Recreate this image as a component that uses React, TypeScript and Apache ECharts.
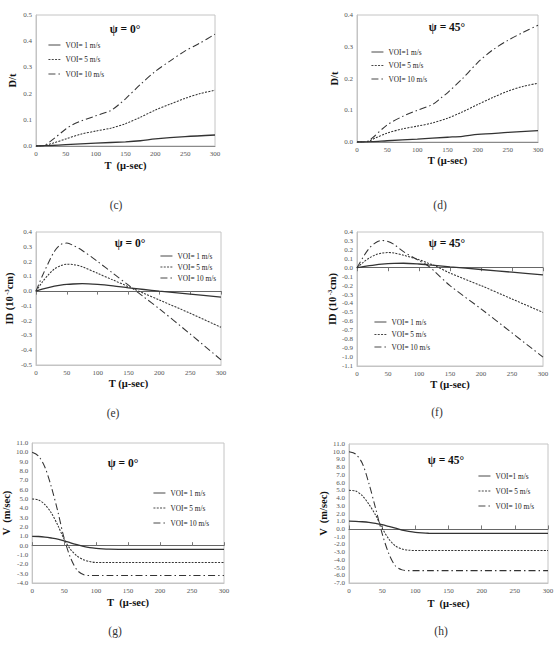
import React, { useEffect, useRef } from "react";
import * as echarts from "echarts";

const FONT = "'Liberation Serif', 'Times New Roman', serif";
const INK = "#333";

// ---------- (c) D/t, ψ = 0° ----------
const tC1 = [0, 25, 50, 100, 150, 175, 200, 250, 300];
const dC1 = [0, 0.002, 0.005, 0.011, 0.016, 0.02, 0.027, 0.036, 0.042];
const tC5 = [0, 10, 20, 30, 50, 75, 100, 125, 150, 175, 200, 225, 250, 275, 300];
const dC5 = [0, 0, 0.005, 0.012, 0.027, 0.045, 0.057, 0.068, 0.085, 0.11, 0.137, 0.16, 0.182, 0.2, 0.213];
const tC10 = [0, 10, 15, 30, 50, 60, 75, 100, 125, 140, 150, 175, 200, 225, 250, 275, 300];
const dC10 = [0, 0, 0.003, 0.028, 0.065, 0.08, 0.095, 0.115, 0.135, 0.16, 0.18, 0.235, 0.285, 0.325, 0.363, 0.393, 0.427];

// ---------- (d) D/t, ψ = 45° ----------
const tD1 = [0, 25, 50, 100, 150, 175, 200, 250, 300];
const dD1 = [0, 0.001, 0.004, 0.009, 0.015, 0.018, 0.024, 0.03, 0.036];
const tD5 = [0, 10, 20, 30, 50, 75, 100, 125, 150, 175, 200, 225, 250, 275, 300];
const dD5 = [0, 0, 0.003, 0.012, 0.028, 0.041, 0.05, 0.06, 0.075, 0.095, 0.118, 0.14, 0.16, 0.175, 0.185];
const tD10 = [0, 10, 15, 25, 50, 75, 100, 125, 140, 150, 175, 200, 225, 250, 275, 300];
const dD10 = [0, 0, 0, 0.012, 0.054, 0.08, 0.1, 0.118, 0.14, 0.155, 0.2, 0.25, 0.29, 0.32, 0.345, 0.368];

// ---------- (e) ID, ψ = 0° ----------
const tE = [0, 10, 20, 30, 40, 50, 60, 75, 100, 125, 150, 175, 200, 250, 300];
const idE10 = [0, 0.1, 0.19, 0.27, 0.315, 0.325, 0.31, 0.275, 0.2, 0.12, 0.04, -0.04, -0.12, -0.29, -0.465];
const idE5 = [0, 0.06, 0.11, 0.15, 0.172, 0.182, 0.18, 0.165, 0.12, 0.075, 0.03, -0.015, -0.06, -0.15, -0.245];
const idE1 = [0, 0.013, 0.024, 0.033, 0.04, 0.045, 0.048, 0.05, 0.045, 0.035, 0.022, 0.011, 0.0, -0.02, -0.04];

// ---------- (f) ID, ψ = 45° ----------
const tF = [0, 10, 20, 30, 40, 50, 60, 75, 100, 115, 125, 150, 200, 250, 300];
const idF10 = [0, 0.12, 0.22, 0.28, 0.305, 0.295, 0.26, 0.18, 0.08, 0.02, -0.04, -0.2, -0.46, -0.73, -1.0];
const idF5 = [0, 0.06, 0.11, 0.145, 0.163, 0.17, 0.165, 0.14, 0.09, 0.05, 0.025, -0.06, -0.2, -0.35, -0.5];
const idF1 = [0, 0.013, 0.024, 0.033, 0.04, 0.045, 0.048, 0.05, 0.042, 0.033, 0.027, 0.01, -0.02, -0.05, -0.08];

// ---------- (g) V, ψ = 0° ----------
const tG = [0, 10, 20, 30, 40, 50, 60, 70, 80, 90, 100, 110, 120, 150, 200, 250, 300];
const vG10 = [10, 9.6, 8.4, 6.3, 3.7, 0.8, -1.3, -2.6, -3.1, -3.2, -3.2, -3.2, -3.2, -3.2, -3.2, -3.2, -3.2];
const vG5 = [5, 4.9, 4.4, 3.5, 2.2, 0.7, -0.4, -1.1, -1.5, -1.7, -1.8, -1.8, -1.8, -1.8, -1.8, -1.8, -1.8];
const vG1 = [1, 0.98, 0.92, 0.82, 0.7, 0.52, 0.3, 0.1, -0.08, -0.22, -0.3, -0.35, -0.38, -0.4, -0.4, -0.4, -0.4];

// ---------- (h) V, ψ = 45° ----------
const tH = [0, 10, 20, 30, 40, 50, 60, 70, 80, 90, 100, 110, 120, 150, 200, 250, 300];
const vH10 = [10, 9.7, 8.5, 5.9, 2.7, -0.6, -3.2, -4.8, -5.3, -5.4, -5.4, -5.4, -5.4, -5.4, -5.4, -5.4, -5.4];
const vH5 = [5, 4.9, 4.3, 3.2, 1.8, 0.1, -1.3, -2.2, -2.6, -2.75, -2.8, -2.8, -2.8, -2.8, -2.8, -2.8, -2.8];
const vH1 = [1, 0.98, 0.93, 0.85, 0.72, 0.55, 0.33, 0.1, -0.15, -0.32, -0.45, -0.52, -0.56, -0.58, -0.58, -0.58, -0.58];

const NAMES_A = ["VOI= 1 m/s", "VOI= 5 m/s", "VOI= 10 m/s"];
const NAMES_B = ["VOI=1 m/s", "VOI= 5 m/s", "VOI= 10 m/s"];

// line styles: solid, short dashes, dash-dot
const STYLES: any[] = [
  { type: "solid", width: 1.3 },
  { type: [2, 1.3], width: 1.05 },
  { type: [7, 3, 1.5, 3], width: 1.05 },
];

const pairs = (t: number[], v: number[]) => t.map((x, i) => [x, v[i]]);

type Panel = {
  grid: { left: number; top: number; width: number; height: number };
  yMin: number;
  yMax: number;
  yStep: number;
  yName: string;
  yGap: number;
  xName: string;
  xGap: number;
  zero: null | "up" | "down";
  psi: string;
  psiAt: [number, number];
  legendAt: [number, number];
  legendGap: number;
  names: string[];
  caption: string;
  captionAt: [number, number];
  lines: number[][][];
};

const PANELS: Panel[] = [
  {
    grid: { left: 36, top: 15, width: 179, height: 131 },
    yMin: 0, yMax: 0.5, yStep: 0.1, yName: "D/t", yGap: 17,
    xName: "T  (μ-sec)", xGap: 14, zero: null,
    psi: "ψ = 0°", psiAt: [125, 29], legendAt: [48, 41], legendGap: 6.5, names: NAMES_A,
    caption: "(c)", captionAt: [116, 205],
    lines: [pairs(tC1, dC1), pairs(tC5, dC5), pairs(tC10, dC10)],
  },
  {
    grid: { left: 357, top: 15, width: 181, height: 127 },
    yMin: 0, yMax: 0.4, yStep: 0.1, yName: "D/t", yGap: 16,
    xName: "T (μ-sec)", xGap: 13, zero: null,
    psi: "ψ = 45°", psiAt: [447, 27], legendAt: [371, 48], legendGap: 5.5, names: NAMES_B,
    caption: "(d)", captionAt: [440, 205],
    lines: [pairs(tD1, dD1), pairs(tD5, dD5), pairs(tD10, dD10)],
  },
  {
    grid: { left: 36, top: 232, width: 185, height: 133 },
    yMin: -0.5, yMax: 0.4, yStep: 0.1, yName: "ID", yGap: 20,
    xName: "T (μ-sec)", xGap: 13, zero: "down",
    psi: "ψ = 0°", psiAt: [130, 243], legendAt: [160, 252], legendGap: 3, names: NAMES_A,
    caption: "(e)", captionAt: [113, 413],
    lines: [pairs(tE, idE1), pairs(tE, idE5), pairs(tE, idE10)],
  },
  {
    grid: { left: 357, top: 232, width: 186, height: 134 },
    yMin: -1.1, yMax: 0.4, yStep: 0.1, yName: "ID", yGap: 18,
    xName: "T (μ-sec)", xGap: 13, zero: "down",
    psi: "ψ = 45°", psiAt: [447, 243], legendAt: [374, 318], legendGap: 4.5, names: NAMES_A,
    caption: "(f)", captionAt: [437, 412],
    lines: [pairs(tF, idF1), pairs(tF, idF5), pairs(tF, idF10)],
  },
  {
    grid: { left: 31, top: 443, width: 193, height: 140 },
    yMin: -4, yMax: 11, yStep: 1, yName: "V", yGap: 19,
    xName: "T  (μ-sec)", xGap: 14, zero: "up",
    psi: "ψ = 0°", psiAt: [123, 463], legendAt: [153, 489], legendGap: 7, names: NAMES_A,
    caption: "(g)", captionAt: [115, 631],
    lines: [pairs(tG, vG1), pairs(tG, vG5), pairs(tG, vG10)],
  },
  {
    grid: { left: 349, top: 444, width: 199, height: 139 },
    yMin: -7, yMax: 11, yStep: 1, yName: "V", yGap: 16,
    xName: "T  (μ-sec)", xGap: 15, zero: "up",
    psi: "ψ = 45°", psiAt: [446, 460], legendAt: [478, 472], legendGap: 7, names: NAMES_B,
    caption: "(h)", captionAt: [441, 631],
    lines: [pairs(tH, vH1), pairs(tH, vH5), pairs(tH, vH10)],
  },
];

const tickFmt = (v: number) => (Math.abs(v) < 1e-9 ? "0.0" : v.toFixed(1));

function yTitle(kind: string) {
  if (kind === "ID") return "{b|ID (10}{s| -3}{b|cm)}";
  if (kind === "V") return "{b|V  (m/sec)}";
  return "{b|D/t}";
}

function buildOption() {
  const grid: any[] = [];
  const xAxis: any[] = [];
  const yAxis: any[] = [];
  const series: any[] = [];
  const legend: any[] = [];
  const graphic: any[] = [];

  PANELS.forEach((p, gi) => {
    grid.push({
      ...p.grid,
      show: true,
      borderColor: "#c4c4c4",
      borderWidth: 1,
      backgroundColor: "#fff",
    });

    const xMain = xAxis.length;
    xAxis.push({
      gridIndex: gi,
      type: "value",
      min: 0,
      max: 300,
      interval: 50,
      position: "bottom",
      name: p.xName,
      nameLocation: "middle",
      nameGap: p.xGap,
      nameTextStyle: { fontFamily: FONT, fontSize: 10.5, fontWeight: "bold", color: "#111" },
      axisLine: { show: true, onZero: false, lineStyle: { color: p.zero ? "#c4c4c4" : "#8a8a8a", width: 1 } },
      axisTick: { show: false },
      axisLabel: { fontFamily: FONT, fontSize: 7, color: "#555", margin: 4 },
      splitLine: { show: false },
    });
    if (p.zero) {
      // zero line with its own tick marks, sitting at y = 0
      xAxis.push({
        gridIndex: gi,
        type: "value",
        min: 0,
        max: 300,
        interval: 50,
        position: "top",
        axisLine: { show: true, onZero: true, lineStyle: { color: "#666", width: 1 } },
        axisTick: { show: true, inside: p.zero === "down", length: 3.5, lineStyle: { color: "#777" } },
        axisLabel: { show: false },
        splitLine: { show: false },
      });
    }

    yAxis.push({
      gridIndex: gi,
      type: "value",
      min: p.yMin,
      max: p.yMax,
      interval: p.yStep,
      name: yTitle(p.yName),
      nameLocation: "middle",
      nameGap: p.yGap,
      nameTextStyle: {
        fontFamily: FONT,
        color: "#111",
        rich: {
          b: { fontFamily: FONT, fontSize: 10.5, fontWeight: "bold", color: "#111", lineHeight: 13 },
          s: { fontFamily: FONT, fontSize: 6.5, fontWeight: "bold", color: "#111", lineHeight: 7, verticalAlign: "top" },
        },
      },
      axisLine: { show: true, onZero: false, lineStyle: { color: "#c4c4c4", width: 1 } },
      axisTick: { show: false },
      axisLabel: { fontFamily: FONT, fontSize: 7, color: "#555", margin: 4, formatter: tickFmt },
      splitLine: { show: false },
    });

    p.lines.forEach((data, si) => {
      series.push({
        type: "line",
        name: p.names[si],
        xAxisIndex: xMain,
        yAxisIndex: gi,
        data,
        smooth: 0.3,
        symbol: "none",
        showSymbol: false,
        silent: true,
        lineStyle: { color: INK, ...STYLES[si] },
        itemStyle: { color: INK },
        emphasis: { disabled: true },
        z: 3,
      });
    });

    legend.push({
      left: p.legendAt[0],
      top: p.legendAt[1],
      orient: "vertical",
      padding: 0,
      itemWidth: 12,
      itemHeight: 8,
      itemGap: p.legendGap,
      data: p.names,
      selectedMode: false,
      // keep only the line sample in each legend entry
      itemStyle: { opacity: 0 },
      lineStyle: { width: 0.9 },
      textStyle: { fontFamily: FONT, fontSize: 7.3, color: "#222", lineHeight: 8 },
    });

    graphic.push({
      type: "text",
      x: p.psiAt[0],
      y: p.psiAt[1],
      z: 10,
      style: {
        text: p.psi,
        fontFamily: FONT,
        fontSize: 11.5,
        fontWeight: "bold",
        fill: "#111",
        align: "center",
        verticalAlign: "middle",
      },
    });
    graphic.push({
      type: "text",
      x: p.captionAt[0],
      y: p.captionAt[1],
      style: {
        text: p.caption,
        fontFamily: FONT,
        fontSize: 11.5,
        fill: "#333",
        align: "center",
        verticalAlign: "middle",
      },
    });
  });

  return {
    animation: false,
    backgroundColor: "#fff",
    grid,
    xAxis,
    yAxis,
    series,
    legend,
    graphic,
  };
}

export default function App() {
  const ref = useRef<HTMLDivElement>(null);
  useEffect(() => {
    if (!ref.current) return;
    const chart = echarts.init(ref.current, undefined, { renderer: "svg" });
    chart.setOption(buildOption() as any);
    return () => chart.dispose();
  }, []);
  return (
    <div
      ref={ref}
      style={{ position: "absolute", left: 0, top: 0, width: 559, height: 657, background: "#fff" }}
    />
  );
}
